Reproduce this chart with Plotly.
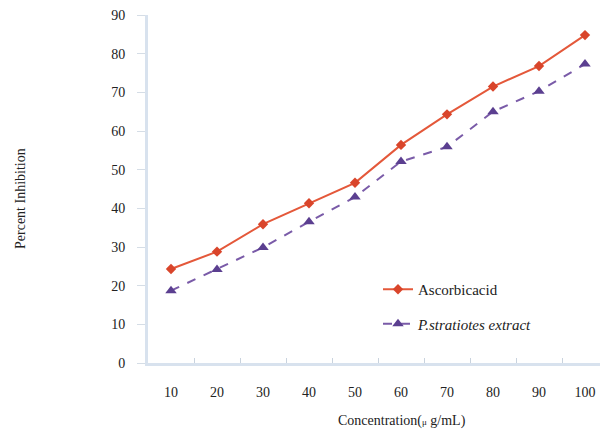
import plotly.graph_objects as go

concentration = ["10", "20", "30", "40", "50", "60", "70", "80", "90", "100"]
ascorbic_acid = [24.3, 28.8, 35.9, 41.3, 46.6, 56.4, 64.3, 71.5, 76.8, 84.8]
p_stratiotes = [18.7, 24.2, 29.9, 36.5, 42.9, 52.1, 55.9, 65.0, 70.3, 77.3]
y_ticks = [0, 10, 20, 30, 40, 50, 60, 70, 80, 90]

# the page body has an 8px default margin; compensate so page pixels match
OFF = 8
W, H = 608 - OFF, 432 - OFF
L, R, T, B = 148 - OFF, 0, 15 - OFF, 432 - 363
PW, PH = W - L - R, H - T - B
serif = "Liberation Serif, Times New Roman, serif"


def px_x(x):
    return (x - OFF - L) / PW


def px_y(y):
    return (H - B - (y - OFF)) / PH


fig = go.Figure()
fig.add_trace(go.Scatter(
    x=concentration, y=ascorbic_acid, name="Ascorbicacid", mode="lines+markers",
    legendgroup="a",
    line=dict(color="#e4583a", width=2),
    marker=dict(symbol="diamond", size=8, color="#d9452b"),
))
fig.add_trace(go.Scatter(
    x=concentration, y=p_stratiotes, name="<i>P.stratiotes extract</i>", mode="lines+markers",
    legendgroup="b",
    line=dict(color="#7a5ba8", width=2, dash="dash"),
    marker=dict(symbol="triangle-up", size=10, color="#5b3f90"),
))

fig.update_layout(
    width=W, height=H,
    margin=dict(l=L, r=R, t=T, b=B, autoexpand=False),
    paper_bgcolor="white", plot_bgcolor="white",
    font=dict(family=serif, size=14, color="#222222"),
    showlegend=True,
    legend=dict(
        x=px_x(378), y=px_y(273),
        xanchor="left", yanchor="top",
        bgcolor="rgba(255,255,255,0)", borderwidth=0,
        font=dict(family=serif, size=15, color="#222222"),
        tracegroupgap=12,
    ),
    xaxis=dict(
        type="category", range=[-0.5, 9.5],
        showgrid=False, zeroline=False,
        showline=True, linecolor="#d8e2ee", linewidth=3,
        ticks="inside", ticklen=5, tickcolor="#c9d3de", tickwidth=1,
        tickson="boundaries",
        ticklabelstandoff=14,
        ticklabeloverflow="allow",
        tickfont=dict(family=serif, size=14, color="#222222"),
    ),
    yaxis=dict(
        range=[0, 90], tickvals=y_ticks,
        showgrid=False, zeroline=False,
        showline=True, linecolor="#d8e2ee", linewidth=3,
        ticks="outside", ticklen=8, tickcolor="#d5dde6", tickwidth=1,
        ticklabelstandoff=9,
        ticklabeloverflow="allow",
        tickfont=dict(family=serif, size=14, color="#222222"),
    ),
    annotations=[
        dict(text="Percent Inhibition", textangle=-90,
             xref="paper", yref="paper",
             x=px_x(20), y=px_y(199),
             xanchor="center", yanchor="middle", showarrow=False,
             font=dict(family=serif, size=14, color="#222222")),
        dict(text="Concentration(<span style='font-size:9px'>μ</span> g/mL)",
             xref="paper", yref="paper",
             x=px_x(402), y=px_y(421),
             xanchor="center", yanchor="middle", showarrow=False,
             font=dict(family=serif, size=14, color="#222222")),
    ],
)

fig.write_html("out.html")
